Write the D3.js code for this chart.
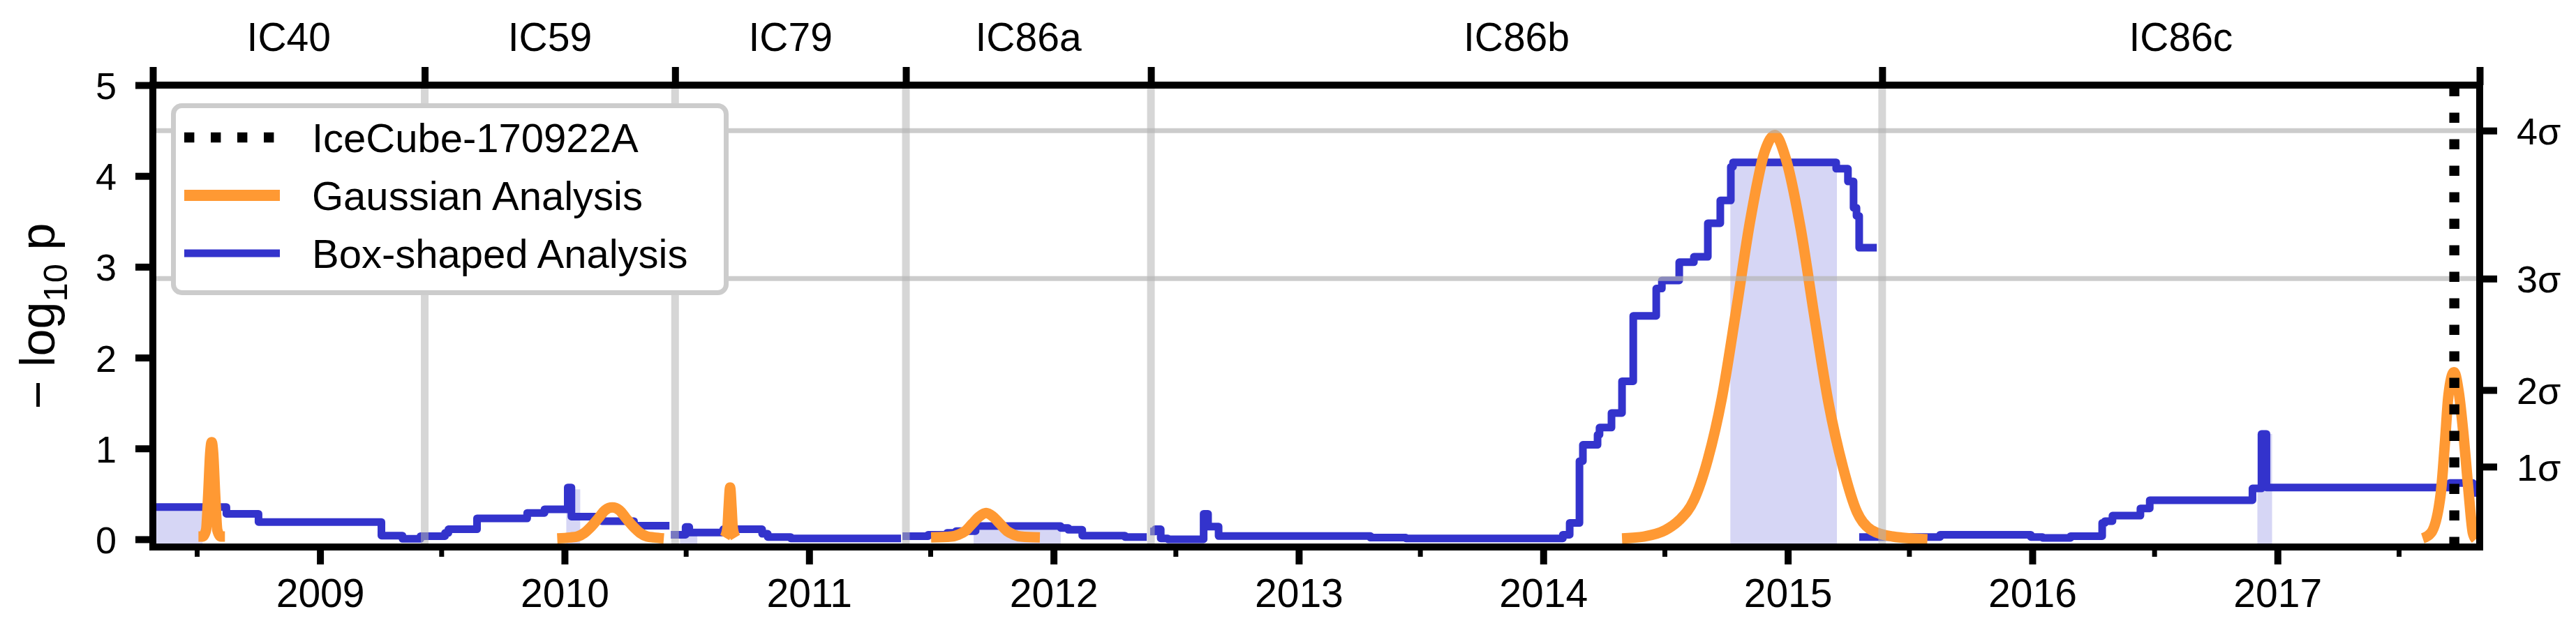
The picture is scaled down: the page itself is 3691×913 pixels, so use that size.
<!DOCTYPE html>
<html>
<head>
<meta charset="utf-8">
<script src="https://cdn.jsdelivr.net/npm/d3@7"></script>
<style>
html, body { margin: 0; padding: 0; background: #fff; }
svg { display: block; }
text { font-family: "Liberation Sans", Arial, Helvetica, sans-serif; fill: #000; }
</style>
</head>
<body>
<svg id="chart" width="3691" height="913"></svg>
<script>
// ---------------- DATA ----------------
const seasons = ["IC40", "IC59", "IC79", "IC86a", "IC86b", "IC86c"];
const seasonBoundaries = [2009.428, 2010.452, 2011.396, 2012.397, 2015.386]; // decimal years
const xLimits = [2008.318, 2017.827];
const yLimits = [-0.085, 5];
const yTicks = [0, 1, 2, 3, 4, 5];
const yearTicks = [2009, 2010, 2011, 2012, 2013, 2014, 2015, 2016, 2017];
const halfYearTicks = [2008, 2009, 2010, 2011, 2012, 2013, 2014, 2015, 2016, 2017]; // July 1st of each
const sigmaLabels = ["1σ", "2σ", "3σ", "4σ"];
const sigmaValues = [0.7995, 1.6430, 2.8697, 4.4993];
const sigmaGridValues = [2.8697, 4.4993];
const alertDate = "2017-09-22";
const legendLabels = ["IceCube-170922A", "Gaussian Analysis", "Box-shaped Analysis"];

// Box-shaped analysis (step curves, one per data segment): [decimal year, -log10 p]
const boxSeg1 = [
  [2008.318, 0.355], [2008.618, 0.28], [2008.749, 0.19], [2009.251, 0.04], [2009.337, 0.005],
  [2009.411, 0.035], [2009.511, 0.07], [2009.525, 0.11], [2009.642, 0.23], [2009.847, 0.29],
  [2009.918, 0.33], [2010.013, 0.57], [2010.028, 0.25], [2010.152, 0.20], [2010.284, 0.15],
  [2010.429, 0.15]
];
const boxSeg2 = [
  [2010.435, 0.05], [2010.495, 0.135], [2010.510, 0.075], [2010.649, 0.11], [2010.808, 0.06],
  [2010.831, 0.025], [2010.925, 0.01], [2011.376, 0.01]
];
const boxSeg3 = [
  [2011.382, 0.035], [2011.487, 0.05], [2011.564, 0.07], [2011.601, 0.09], [2011.681, 0.145],
  [2012.029, 0.125], [2012.060, 0.105], [2012.117, 0.04], [2012.291, 0.025], [2012.380, 0.025]
];
const boxSeg4 = [
  [2012.394, 0.085], [2012.414, 0.11], [2012.437, 0.01], [2012.466, 0.0], [2012.612, 0.28],
  [2012.630, 0.14], [2012.673, 0.036], [2013.293, 0.018], [2013.438, 0.01], [2014.080, 0.05],
  [2014.108, 0.18], [2014.148, 0.86], [2014.162, 1.04], [2014.222, 1.15], [2014.230, 1.23],
  [2014.279, 1.39], [2014.322, 1.74], [2014.368, 2.46], [2014.462, 2.76], [2014.485, 2.85],
  [2014.556, 3.05], [2014.616, 3.11], [2014.673, 3.48], [2014.724, 3.73], [2014.767, 4.10],
  [2014.776, 4.15], [2015.198, 4.08], [2015.246, 3.94], [2015.269, 3.65], [2015.281, 3.56],
  [2015.292, 3.21], [2015.364, 3.21]
];
const boxSeg5 = [
  [2015.292, 0.025], [2015.623, 0.05], [2015.994, 0.025], [2016.042, 0.015], [2016.156, 0.035],
  [2016.285, 0.18], [2016.296, 0.20], [2016.327, 0.26], [2016.441, 0.34], [2016.479, 0.43],
  [2016.898, 0.56], [2016.935, 1.16], [2016.955, 0.57], [2017.705, 0.62], [2017.799, 0.51],
  [2017.827, 0.51]
];
// Best-fit box windows: [start, end, height]
const boxWindows = [
  [2008.300, 2008.521, 0.35],
  [2010.007, 2010.064, 0.55],
  [2010.472, 2010.543, 0.06],
  [2011.673, 2012.029, 0.10],
  [2014.765, 2015.201, 4.15],
  [2016.918, 2016.978, 1.16]
];

// Gaussian analysis curves: [decimal year, -log10 p]
const gaussIC40 = [
  [2008.504, 0.03], [2008.521, 0.03], [2008.535, 0.10], [2008.544, 0.50], [2008.552, 0.95],
  [2008.558, 1.07], [2008.564, 0.95], [2008.572, 0.50], [2008.581, 0.10], [2008.595, 0.03],
  [2008.612, 0.03]
];
const gaussIC59 = [
  [2009.970, 0.01], [2010.024, 0.02], [2010.052, 0.03], [2010.081, 0.07], [2010.109, 0.14],
  [2010.138, 0.23], [2010.166, 0.32], [2010.195, 0.35], [2010.224, 0.32], [2010.252, 0.23],
  [2010.281, 0.14], [2010.309, 0.07], [2010.338, 0.03], [2010.366, 0.02], [2010.406, 0.01]
];
const gaussIC79 = [
  [2010.655, 0.02], [2010.666, 0.12], [2010.671, 0.35], [2010.677, 0.57], [2010.683, 0.35],
  [2010.688, 0.12], [2010.699, 0.02]
];
const gaussIC86a = [
  [2011.499, 0.02], [2011.582, 0.03], [2011.610, 0.05], [2011.639, 0.09], [2011.667, 0.17],
  [2011.696, 0.25], [2011.724, 0.29], [2011.752, 0.25], [2011.781, 0.17], [2011.810, 0.09],
  [2011.838, 0.05], [2011.867, 0.03], [2011.944, 0.02]
];
const gaussIC86b = [
  [2014.322, 0.01], [2014.411, 0.03], [2014.499, 0.10], [2014.556, 0.21], [2014.616, 0.43],
  [2014.673, 0.88], [2014.730, 1.55], [2014.790, 2.54], [2014.847, 3.52], [2014.907, 4.28],
  [2014.947, 4.45], [2014.992, 4.19], [2015.052, 3.43], [2015.109, 2.45], [2015.166, 1.51],
  [2015.226, 0.79], [2015.283, 0.30], [2015.343, 0.10], [2015.429, 0.03], [2015.571, 0.0]
];
const gaussIC86c = [
  [2017.594, 0.01], [2017.628, 0.07], [2017.668, 0.51], [2017.685, 1.07], [2017.699, 1.58],
  [2017.722, 1.84], [2017.742, 1.61], [2017.762, 1.12], [2017.782, 0.51], [2017.799, 0.07],
  [2017.811, 0.0]
];

// ---------------- LAYOUT ----------------
const W = 3691, H = 913;
const M = { left: 219, right: 3553, top: 122, bottom: 784 };
const BLUE = "#3333cc", ORANGE = "#ff9933";

const toDate = v => {
  const yr = Math.floor(v);
  const a = Date.UTC(yr, 0, 1), b = Date.UTC(yr + 1, 0, 1);
  return new Date(a + (v - yr) * (b - a));
};

const x = d3.scaleUtc().domain(xLimits.map(toDate)).range([M.left, M.right]);
const y = d3.scaleLinear().domain(yLimits).range([M.bottom, M.top]);

const svg = d3.select("#chart");
svg.append("rect").attr("width", W).attr("height", H).attr("fill", "#fff");

svg.append("defs").append("clipPath").attr("id", "clip")
  .append("rect").attr("x", M.left).attr("y", M.top)
  .attr("width", M.right - M.left).attr("height", M.bottom - M.top);

const plot = svg.append("g").attr("clip-path", "url(#clip)");

// shaded best-fit windows
plot.selectAll("rect.win").data(boxWindows).join("rect")
  .attr("class", "win")
  .attr("x", d => x(toDate(d[0])))
  .attr("width", d => x(toDate(d[1])) - x(toDate(d[0])))
  .attr("y", d => y(d[2]))
  .attr("height", d => y(yLimits[0]) - y(d[2]))
  .attr("fill", BLUE).attr("fill-opacity", 0.2);

// box-shaped analysis
const stepLine = d3.line().x(d => x(toDate(d[0]))).y(d => y(d[1])).curve(d3.curveStepAfter);
plot.selectAll("path.box").data([boxSeg1, boxSeg2, boxSeg3, boxSeg4, boxSeg5]).join("path")
  .attr("class", "box")
  .attr("d", stepLine)
  .attr("fill", "none").attr("stroke", BLUE).attr("stroke-width", 11)
  .attr("stroke-linejoin", "round");

// gaussian analysis
const smoothLine = d3.line().x(d => x(toDate(d[0]))).y(d => y(d[1])).curve(d3.curveMonotoneX);
plot.selectAll("path.gauss").data([gaussIC40, gaussIC59, gaussIC79, gaussIC86a, gaussIC86b, gaussIC86c]).join("path")
  .attr("class", "gauss")
  .attr("d", smoothLine)
  .attr("fill", "none").attr("stroke", ORANGE).attr("stroke-width", 15)
  .attr("stroke-linejoin", "round");

// grid: season boundaries and sigma levels
plot.selectAll("line.vgrid").data(seasonBoundaries).join("line")
  .attr("class", "vgrid")
  .attr("x1", d => x(toDate(d))).attr("x2", d => x(toDate(d)))
  .attr("y1", M.top).attr("y2", M.bottom)
  .attr("stroke", "rgb(180,180,180)").attr("stroke-opacity", 0.54).attr("stroke-width", 11);
plot.selectAll("line.hgrid").data(sigmaGridValues).join("line")
  .attr("class", "hgrid")
  .attr("x1", M.left).attr("x2", M.right)
  .attr("y1", d => y(d)).attr("y2", d => y(d))
  .attr("stroke", "rgb(180,180,180)").attr("stroke-opacity", 0.68).attr("stroke-width", 7);

// alert line
const ax = x(new Date(alertDate + "T00:00:00Z"));
plot.append("line")
  .attr("x1", ax).attr("x2", ax).attr("y1", M.bottom).attr("y2", M.top)
  .attr("stroke", "#000").attr("stroke-width", 14.4).attr("stroke-dasharray", "14.4 23.6");

// ---------------- AXES ----------------
function styleAxis(g, sw) {
  g.select(".domain").remove();
  g.selectAll(".tick line").attr("stroke", "#000").attr("stroke-width", sw);
}

// bottom: years
svg.append("g").attr("transform", `translate(0,${M.bottom})`)
  .call(d3.axisBottom(x).tickValues(yearTicks.map(v => toDate(v)))
    .tickSize(25).tickPadding(21).tickFormat(d3.utcFormat("%Y")))
  .call(g => styleAxis(g, 10))
  .call(g => g.selectAll("text").attr("font-size", 57).attr("font-family", "Liberation Sans, Arial, sans-serif"));

// bottom: minor half-year ticks
svg.append("g").attr("transform", `translate(0,${M.bottom})`)
  .call(d3.axisBottom(x).tickValues(halfYearTicks.map(v => new Date(Date.UTC(v, 6, 1))))
    .tickSize(14).tickFormat(""))
  .call(g => styleAxis(g, 7));

// top: season boundaries
svg.append("g").attr("transform", `translate(0,${M.top})`)
  .call(d3.axisTop(x).tickValues([xLimits[0], ...seasonBoundaries, xLimits[1]].map(toDate))
    .tickSize(26).tickFormat(""))
  .call(g => styleAxis(g, 10));

// season labels
const seasonEdges = [xLimits[0], ...seasonBoundaries, xLimits[1]];
svg.append("g").selectAll("text").data(seasons).join("text")
  .attr("x", (d, i) => (x(toDate(seasonEdges[i])) + x(toDate(seasonEdges[i + 1]))) / 2)
  .attr("y", 73)
  .attr("text-anchor", "middle").attr("font-size", 57)
  .text(d => d);

// left axis
svg.append("g").attr("transform", `translate(${M.left},0)`)
  .call(d3.axisLeft(y).tickValues(yTicks).tickSize(25).tickPadding(27).tickFormat(d3.format("d")))
  .call(g => styleAxis(g, 10))
  .call(g => g.selectAll("text").attr("font-size", 54).attr("dy", "0.36em").attr("font-family", "Liberation Sans, Arial, sans-serif"));

// right axis: sigma
svg.append("g").attr("transform", `translate(${M.right},0)`)
  .call(d3.axisRight(y).tickValues(sigmaValues).tickSize(25).tickPadding(28)
    .tickFormat((d, i) => sigmaLabels[i]))
  .call(g => styleAxis(g, 10))
  .call(g => g.selectAll("text").attr("font-size", 54).attr("dy", "0.36em").attr("font-family", "Liberation Sans, Arial, sans-serif"));

// frame
svg.append("rect")
  .attr("x", M.left).attr("y", M.top)
  .attr("width", M.right - M.left).attr("height", M.bottom - M.top)
  .attr("fill", "none").attr("stroke", "#000").attr("stroke-width", 10);

// y label
const yl = svg.append("text")
  .attr("transform", `translate(78,${(M.top + M.bottom) / 2}) rotate(-90)`)
  .attr("text-anchor", "middle").attr("font-size", 70);
yl.append("tspan").text("− log");
yl.append("tspan").attr("font-size", 49).attr("dy", 18).text("10");
yl.append("tspan").attr("dy", -18).text(" p");

// ---------------- LEGEND ----------------
const lg = svg.append("g");
lg.append("rect")
  .attr("x", 248.5).attr("y", 151.5).attr("width", 792).attr("height", 268).attr("rx", 12)
  .attr("fill", "#fff").attr("stroke", "#cccccc").attr("stroke-width", 7);
const legendStyles = [
  { color: "#000", width: 14.4, dash: "14.4 23.6" },
  { color: ORANGE, width: 16, dash: null },
  { color: BLUE, width: 11, dash: null }
];
const rows = lg.selectAll("g.row").data(legendLabels).join("g")
  .attr("class", "row")
  .attr("transform", (d, i) => `translate(0,${197 + i * 83})`);
rows.append("line")
  .attr("x1", 264).attr("x2", 401).attr("y1", 0).attr("y2", 0)
  .attr("stroke", (d, i) => legendStyles[i].color)
  .attr("stroke-width", (d, i) => legendStyles[i].width)
  .attr("stroke-dasharray", (d, i) => legendStyles[i].dash);
rows.append("text")
  .attr("x", 447).attr("y", 21).attr("font-size", 58)
  .text(d => d);
</script>
</body>
</html>
